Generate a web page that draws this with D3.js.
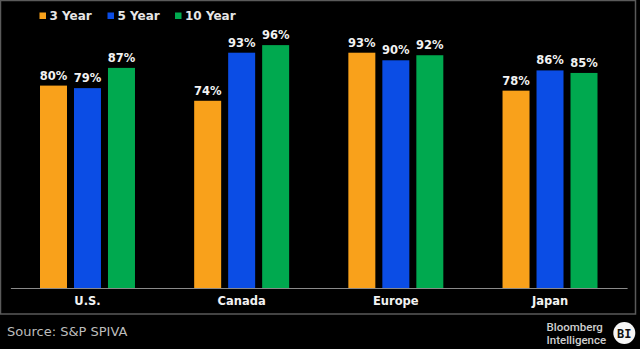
<!DOCTYPE html>
<html><head><meta charset="utf-8">
<script src="https://cdn.jsdelivr.net/npm/d3@7"></script>
<style>html,body{margin:0;padding:0;background:#000;}svg{display:block;}</style>
</head><body>
<svg id="chart" width="640" height="349"></svg>
<script>
const categories = ["U.S.", "Canada", "Europe", "Japan"];
const seriesNames = ["3 Year", "5 Year", "10 Year"];
const values3 = [80, 74, 93, 78];
const values5 = [79, 93, 90, 86];
const values10 = [87, 96, 92, 85];
const seriesColors = ["#f9a11b", "#0b4de5", "#00a94f"];
const sourceText = "Source: S&P SPIVA";

const seriesValues = [values3, values5, values10];
const svg = d3.select("#chart");
svg.append("rect").attr("width", 640).attr("height", 349).attr("fill", "#000");
// frame
svg.append("rect").attr("x", 0.5).attr("y", 0.5).attr("width", 635).attr("height", 313.5)
  .attr("fill", "none").attr("stroke", "#5a5a5a").attr("stroke-width", 1.5);

const x0 = d3.scaleBand().domain(categories).range([10.4, 627.1]).paddingInner(0.384).paddingOuter(0.192);
const x1 = d3.scaleBand().domain(seriesNames).range([0, x0.bandwidth()]).paddingInner(0.206).paddingOuter(0);
const y = d3.scaleLinear().domain([0, 100]).range([288, 35]);

const data = categories.map((c, i) => ({cat: c, vals: seriesNames.map((s, j) => ({s, v: seriesValues[j][i], color: seriesColors[j]}))}));

const g = svg.append("g");
const groups = g.selectAll("g.grp").data(data).join("g").attr("transform", d => `translate(${x0(d.cat)},0)`);
groups.selectAll("rect").data(d => d.vals).join("rect")
  .attr("x", d => x1(d.s)).attr("width", x1.bandwidth())
  .attr("y", d => y(d.v)).attr("height", d => y(0) - y(d.v))
  .attr("fill", d => d.color);
groups.selectAll("text").data(d => d.vals).join("text")
  .attr("x", d => x1(d.s) + x1.bandwidth() / 2).attr("y", d => y(d.v) - 6)
  .attr("text-anchor", "middle").attr("fill", "#f2f2f2")
  .style("font-family", "DejaVu Sans").style("font-weight", "bold").style("font-size", "11.5px")
  .text(d => d.v + "%");

// x axis
const xAxis = svg.append("g").attr("transform", `translate(0,288)`).call(d3.axisBottom(x0).tickSize(0).tickPadding(9));
xAxis.select(".domain").attr("stroke", "#8a8a8a").attr("stroke-width", 1);
xAxis.selectAll("text").attr("fill", "#f2f2f2").style("font-family", "DejaVu Sans").style("font-weight", "bold").style("font-size", "11.5px");

// legend
const legendX = [39.5, 107.5, 175];
const lg = svg.append("g");
seriesNames.forEach((s, i) => {
  lg.append("rect").attr("x", legendX[i]).attr("y", 12.5).attr("width", 6.5).attr("height", 6.5).attr("fill", seriesColors[i]);
  lg.append("text").attr("x", legendX[i] + 10).attr("y", 19.5).attr("fill", "#e6e6e6")
    .style("font-family", "DejaVu Sans").style("font-weight", "bold").style("font-size", "12px").text(s);
});

// source
svg.append("text").attr("x", 7).attr("y", 335.5).attr("fill", "#bdbdbd")
  .style("font-family", "DejaVu Sans").style("font-size", "13px").text(sourceText);

// logo
svg.append("text").attr("x", 546.5).attr("y", 330.5).attr("fill", "#cfcfcf")
  .style("font-family", "Roboto").style("font-size", "11.5px").style("font-weight", "500").text("Bloomberg");
svg.append("text").attr("x", 546.5).attr("y", 344).attr("fill", "#cfcfcf")
  .style("font-family", "Roboto").style("font-size", "11.5px").style("font-weight", "500").text("Intelligence");
svg.append("circle").attr("cx", 624.3).attr("cy", 333).attr("r", 11).attr("fill", "#f5f5f5");
svg.append("text").attr("x", 624.3).attr("y", 337.5).attr("text-anchor", "middle").attr("fill", "#111")
  .style("font-family", "DejaVu Sans Mono").style("font-weight", "bold").style("font-size", "12px").text("BI");
</script>
</body></html>
